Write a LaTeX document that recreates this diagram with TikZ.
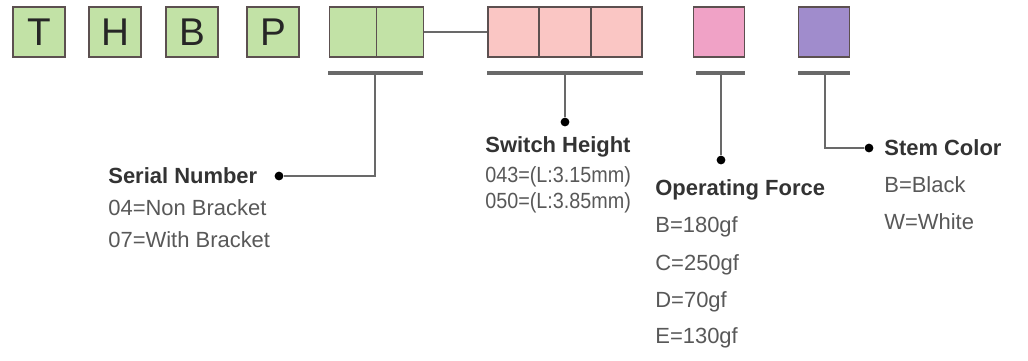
\documentclass[tikz,border=0pt]{standalone}
\usepackage{fontspec}
\usepackage{graphicx}
\setmainfont{Liberation Sans}
\usetikzlibrary{positioning}
\definecolor{boxVert}{RGB}{194,226,166}
\definecolor{boxSaumon}{RGB}{250,198,196}
\definecolor{boxRose}{RGB}{240,162,198}
\definecolor{boxViolet}{RGB}{160,140,204}
\definecolor{traitBord}{RGB}{92,80,80}
\definecolor{traitGris}{RGB}{105,105,105}
\definecolor{texteGris}{RGB}{88,88,88}
\newcommand{\serre}[1]{\scalebox{0.9}[1]{#1}}
\begin{document}
\begin{tikzpicture}[
  x=0.02cm, y=-0.02cm,
  every node/.style={font=\fontsize{12.5}{14}\selectfont},
  lettre/.style={draw=traitBord, line width=1pt, fill=boxVert, minimum width=52*0.02cm,
                 minimum height=50*0.02cm, inner sep=0pt, text=black!85,
                 font=\fontsize{22}{24}\selectfont},
  cell/.style={draw=traitBord, line width=1pt, minimum height=50*0.02cm, inner sep=0pt},
  barre/.style={line width=1.8pt, traitGris},
  lead/.style={line width=1.1pt, traitGris},
  pt/.style={circle, fill=black, inner sep=0pt, minimum size=5pt},
  titre/.style={anchor=west, inner sep=0pt, text=black!80, font=\fontsize{12.5}{14}\selectfont\bfseries},
  val/.style={anchor=west, inner sep=0pt, text=texteGris}
]
\useasboundingbox (0,0) rectangle (1028,360);

% lettres fixes
\node[lettre] (T) at (39,32)  {T};
\node[lettre] (H) at (115,32) {H};
\node[lettre] (B) at (192,32) {B};
\node[lettre] (P) at (273,32) {P};

% cases a remplir
\node[cell, fill=boxVert, minimum width=47*0.02cm] (ser1) at (353,32) {};
\node[cell, fill=boxVert, minimum width=47*0.02cm] (ser2) at (400,32) {};
\node[cell, fill=boxSaumon, minimum width=51.3*0.02cm] (ht1) at (513.7,32) {};
\node[cell, fill=boxSaumon, minimum width=51.3*0.02cm] (ht2) at (565,32) {};
\node[cell, fill=boxSaumon, minimum width=51.3*0.02cm] (ht3) at (616.3,32) {};
\node[cell, fill=boxRose, minimum width=51*0.02cm] (frc) at (719,32) {};
\node[cell, fill=boxViolet, minimum width=51*0.02cm] (stm) at (824,32) {};

\draw[lead] (ser2.east) -- (ht1.west);

% barres
\coordinate (serL) at (328,73);  \coordinate (serR) at (423,73);
\coordinate (htL)  at (487,73);  \coordinate (htR)  at (643,73);
\coordinate (frcL) at (696,73);  \coordinate (frcR) at (745,73);
\coordinate (stmL) at (798,73);  \coordinate (stmR) at (850,73);
\draw[barre] (serL) -- (serR);
\draw[barre] (htL) -- (htR);
\draw[barre] (frcL) -- (frcR);
\draw[barre] (stmL) -- (stmR);

\coordinate (serTop) at (375,73);
\coordinate (htTop)  at (565,73);
\coordinate (frcTop) at (721,73);
\coordinate (stmTop) at (825,73);

% points
\node[pt] (serDot) at (279,176) {};
\node[pt] (htDot)  at (565,122) {};
\node[pt] (frcDot) at (721,160) {};
\node[pt] (stmDot) at (869,148) {};

\draw[lead] (serTop) |- (serDot);
\draw[lead] (htTop) -- (htDot);
\draw[lead] (frcTop) -- (frcDot);
\draw[lead] (stmTop) |- (stmDot);

% textes
\node[titre] (serT) at (108,176) {Serial Number};
\node[val] (ser04) at (108,208) {04=Non Bracket};
\node[val] (ser07) at (108,240) {07=With Bracket};

\node[titre] (htT) at (485,147) {Switch Height};
\node[val] (ht043) at (485,177) {\serre{043=(L:3.15mm)}};
\node[val] (ht050) at (485,203) {\serre{050=(L:3.85mm)}};

\node[titre] (frcT) at (655,190) {Operating Force};
\node[val] (frcB) at (655,227) {B=180gf};
\node[val] (frcC) at (655,265) {C=250gf};
\node[val] (frcD) at (655,302) {D=70gf};
\node[val] (frcE) at (655,338) {E=130gf};

\node[titre] (stmT) at (884,148) {Stem Color};
\node[val] (stmB) at (884,185) {B=Black};
\node[val] (stmW) at (884,222) {W=White};
\end{tikzpicture}
\end{document}
